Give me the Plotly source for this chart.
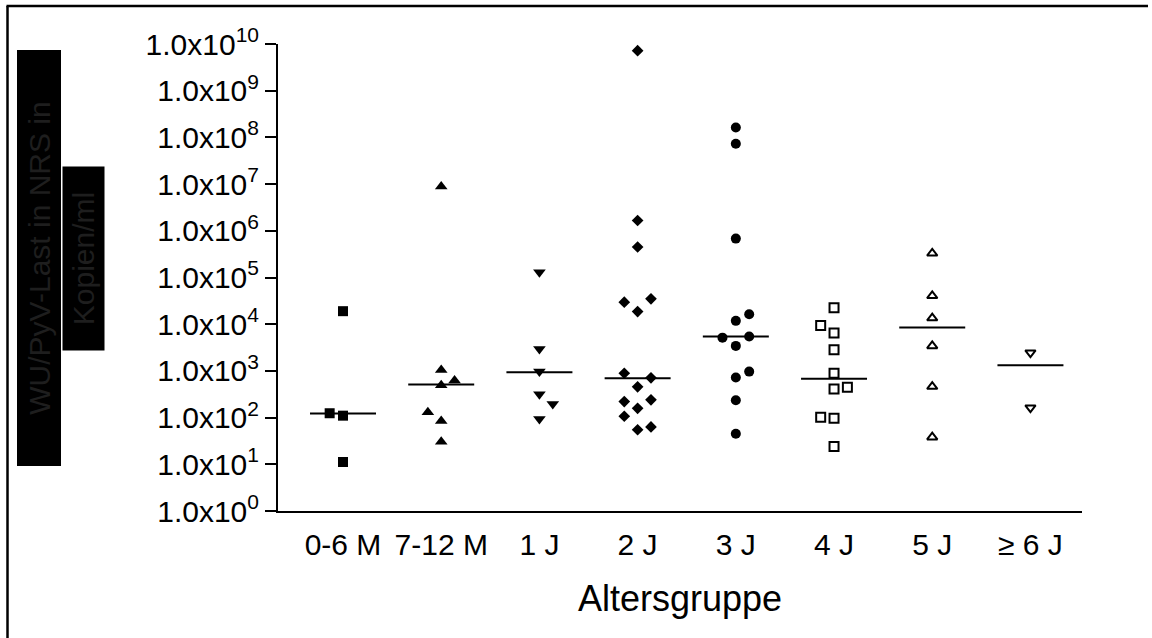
import plotly.graph_objects as go

# ---------------- data ----------------
categories = ["0-6 M", "7-12 M", "1 J", "2 J", "3 J", "4 J", "5 J", "≥ 6 J"]

vals_0_6M = [19000, 124, 110, 11.2]
jit_0_6M = [0, -1, 0, 0]
vals_7_12M = [8.9e6, 1050, 620, 495, 130, 85, 30.5]
jit_7_12M = [0, 0, 1, 0, -1, 0, 0]
vals_1J = [1.3e5, 2950, 966, 316, 196, 93]
jit_1J = [0, 0, 0, 0, 1, 0]
vals_2J = [7.2e9, 1.66e6, 4.5e5, 2.96e4, 3.5e4, 1.86e4, 890, 710, 455, 220, 240, 158, 107, 55, 63]
jit_2J = [0, 0, 0, -1, 1, 0, -1, 1, 0, -1, 1, 0, -1, 0, 1]
vals_3J = [1.63e8, 7.3e7, 6.8e5, 1.64e4, 1.18e4, 5150, 5430, 3430, 966, 720, 235, 45]
jit_3J = [0, 0, 0, 1, 0, -1, 1, 0, 1, 0, 0, 0]
vals_4J = [2.24e4, 9330, 6450, 2820, 890, 410, 446, 102, 97, 24]
jit_4J = [0, -1, 0, 0, 0, 0, 1, -1, 0, 0]
vals_5J = [3.3e5, 4.05e4, 1.35e4, 3430, 462, 38]
jit_5J = [0, 0, 0, 0, 0, 0]
vals_6J = [2460, 163]
jit_6J = [0, 0]

medians = [122, 510, 940, 700, 5430, 675, 8500, 1320]

ytick_exponents = list(range(0, 11))

# ---------------- styling ----------------
W, H = 1152, 638
ML, MR, MT, MB = 278, 70, 44, 127
FONT = "Liberation Sans, Arial, sans-serif"
JSTEP = 0.136
HALF_MED = 0.336

groups = [
    (vals_0_6M, jit_0_6M, "square", 10, 0),
    (vals_7_12M, jit_7_12M, "triangle-up", 11, 0),
    (vals_1J, jit_1J, "triangle-down", 11, 0),
    (vals_2J, jit_2J, "diamond", 9, 0),
    (vals_3J, jit_3J, "circle", 10, 0),
    (vals_4J, jit_4J, "square-open", 9, 2),
    (vals_5J, jit_5J, "triangle-up-open", 9, 2),
    (vals_6J, jit_6J, "triangle-down-open", 9, 2),
]

fig = go.Figure()
for i, (vals, jit, sym, size, lw) in enumerate(groups):
    fig.add_trace(go.Scatter(
        x=[i + j * JSTEP for j in jit], y=vals, mode="markers",
        marker=dict(symbol=sym, size=size, color="black",
                    line=dict(color="black", width=lw)),
        showlegend=False, cliponaxis=False))
    fig.add_trace(go.Scatter(
        x=[i - HALF_MED, i + HALF_MED], y=[medians[i], medians[i]],
        mode="lines", line=dict(color="black", width=2),
        showlegend=False, cliponaxis=False))

pw = W - ML - MR
ph = H - MT - MB


def px_x(px):
    return (px - ML) / pw


def px_y(py):
    return (H - MB - py) / ph


shapes = [
    dict(type="line", xref="paper", yref="paper", x0=px_x(6.5), x1=px_x(1148),
         y0=px_y(6), y1=px_y(6), line=dict(color="black", width=2.5)),
    dict(type="line", xref="paper", yref="paper", x0=px_x(7.5), x1=px_x(7.5),
         y0=px_y(6), y1=px_y(640), line=dict(color="black", width=2.5)),
]

annotations = [
    dict(text="WU/PyV-Last in NRS in", xref="paper", yref="paper",
         x=px_x(38.5), y=px_y(258), xanchor="center", yanchor="middle",
         textangle=-90, showarrow=False, bgcolor="black",
         width=415, height=43, borderpad=0,
         font=dict(family=FONT, size=30, color="#1e1e1e")),
    dict(text="Kopien/ml", xref="paper", yref="paper",
         x=px_x(83.5), y=px_y(258.5), xanchor="center", yanchor="middle",
         textangle=-90, showarrow=False, bgcolor="black",
         width=183, height=41, borderpad=0,
         font=dict(family=FONT, size=30, color="#1e1e1e")),
]

fig.update_layout(
    width=W, height=H,
    margin=dict(l=ML, r=MR, t=MT, b=MB, autoexpand=False),
    paper_bgcolor="white", plot_bgcolor="white",
    font=dict(family=FONT, color="black"),
    shapes=shapes, annotations=annotations,
    xaxis=dict(
        range=[-0.662, 7.525], tickmode="array",
        tickvals=list(range(len(categories))), ticktext=categories,
        ticks="", showgrid=False, zeroline=False,
        showline=True, linecolor="black", linewidth=2,
        tickfont=dict(family=FONT, size=30, color="black"),
        ticklabelstandoff=6,
        title=dict(text="Altersgruppe", standoff=26,
                   font=dict(family=FONT, size=36, color="black")),
        automargin=False,
    ),
    yaxis=dict(
        type="log", range=[0, 10], tickmode="array",
        tickvals=[10 ** e for e in ytick_exponents],
        ticktext=["1.0x10<sup>%d</sup>" % e for e in ytick_exponents],
        ticks="outside", ticklen=11, tickwidth=2, tickcolor="black",
        showgrid=False, zeroline=False,
        showline=True, linecolor="black", linewidth=2,
        tickfont=dict(family=FONT, size=30, color="black"),
        automargin=False,
    ),
)

fig.write_html("out.html")
